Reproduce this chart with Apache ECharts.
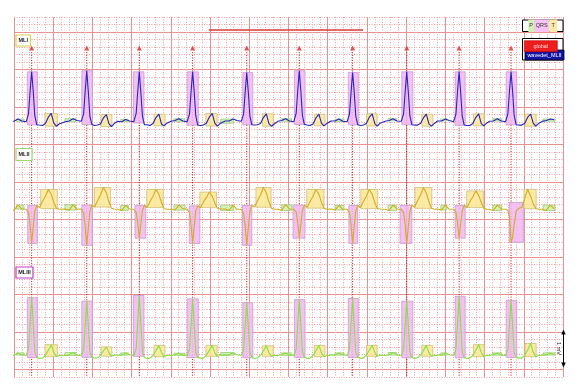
<!DOCTYPE html>
<html><head><meta charset="utf-8">
<script src="https://cdn.jsdelivr.net/npm/echarts@6/dist/echarts.min.js"></script>
<style>html,body{margin:0;padding:0;background:#fff}#c{width:583px;height:392px}</style>
</head><body><div id="c"></div>
<script>
// ---- data (time in ms from window start, amplitude in mV) ----
const beatTimes = [90, 371, 639, 911, 1187, 1455, 1727, 2003, 2270, 2535, 2805];
const sampleOffsets = [-110, -90, -70, -50, -28, -16, -8, 0, 8, 16, 26, 40, 55, 70, 85, 100, 113, 126, 140];
const leadLabels = ['MLI', 'MLII', 'MLIII'];
const mlI = [
  [0.02, 0.01, 0.07, 0.02, 0, 0.21, 0.8, 1.33, 0.82, 0.16, -0.08, -0.09, -0.1, -0.05, 0.12, 0.22, -0.04, -0.12, -0.06],
  [0, 0.02, 0.08, 0.03, 0.01, 0.2, 0.82, 1.36, 0.8, 0.14, -0.07, -0.1, -0.09, -0.06, 0.1, 0.19, -0.05, -0.13, -0.05],
  [0.01, 0, 0.06, 0.02, 0, 0.22, 0.8, 1.33, 0.78, 0.15, -0.08, -0.08, -0.1, -0.05, 0.11, 0.2, -0.06, -0.11, -0.04],
  [0.01, 0.03, 0.08, 0.02, 0, 0.2, 0.79, 1.33, 0.8, 0.16, -0.09, -0.1, -0.09, -0.04, 0.12, 0.22, -0.04, -0.12, -0.05],
  [0.02, 0.02, 0.07, 0.03, 0.01, 0.2, 0.78, 1.31, 0.79, 0.15, -0.08, -0.09, -0.08, -0.05, 0.11, 0.21, -0.05, -0.12, -0.06],
  [0.01, 0.03, 0.08, 0.02, 0, 0.22, 0.82, 1.36, 0.81, 0.16, -0.07, -0.09, -0.1, -0.06, 0.1, 0.2, -0.04, -0.11, -0.05],
  [0.02, 0.02, 0.07, 0.01, 0, 0.2, 0.78, 1.31, 0.8, 0.15, -0.08, -0.1, -0.09, -0.05, 0.12, 0.21, -0.05, -0.12, -0.04],
  [0.01, 0.03, 0.08, 0.02, 0.01, 0.21, 0.8, 1.33, 0.8, 0.16, -0.08, -0.09, -0.09, -0.05, 0.1, 0.2, -0.06, -0.12, -0.05],
  [0.02, 0.02, 0.07, 0.03, 0, 0.2, 0.8, 1.33, 0.79, 0.15, -0.09, -0.1, -0.1, -0.05, 0.11, 0.21, -0.05, -0.11, -0.04],
  [0.01, 0.02, 0.08, 0.02, 0, 0.21, 0.81, 1.33, 0.8, 0.16, -0.08, -0.09, -0.09, -0.04, 0.12, 0.2, -0.04, -0.12, -0.05],
  [0.01, 0.03, 0.07, 0.05]
];
const mlII = [
  [0, -0.03, 0.11, 0.01, 0, -0.08, -0.42, -0.91, -0.48, -0.05, 0.1, 0.05, 0.21, 0.35, 0.53, 0.4, 0.19, 0.03, 0],
  [0.01, -0.02, 0.12, 0, 0.01, -0.1, -0.45, -0.96, -0.5, -0.06, 0.11, 0.06, 0.23, 0.38, 0.58, 0.44, 0.2, 0.03, 0.01],
  [0, -0.03, 0.1, 0.01, 0, -0.07, -0.36, -0.77, -0.4, -0.04, 0.1, 0.05, 0.21, 0.35, 0.53, 0.4, 0.18, 0.02, 0],
  [0, -0.02, 0.11, 0.02, 0, -0.08, -0.42, -0.91, -0.47, -0.05, 0.09, 0.05, 0.19, 0.31, 0.46, 0.35, 0.17, 0.03, 0.01],
  [0.01, -0.03, 0.11, 0, 0, -0.1, -0.45, -0.96, -0.5, -0.06, 0.1, 0.06, 0.23, 0.38, 0.58, 0.44, 0.2, 0.03, 0],
  [0, -0.03, 0.12, 0.01, 0, -0.07, -0.36, -0.77, -0.41, -0.04, 0.11, 0.05, 0.21, 0.35, 0.53, 0.4, 0.19, 0.03, 0],
  [0.01, -0.02, 0.1, 0, 0, -0.08, -0.42, -0.91, -0.48, -0.05, 0.1, 0.05, 0.21, 0.35, 0.53, 0.4, 0.18, 0.02, 0.01],
  [0, -0.03, 0.11, 0.01, 0, -0.09, -0.42, -0.91, -0.48, -0.05, 0.1, 0.06, 0.23, 0.38, 0.58, 0.43, 0.2, 0.03, 0],
  [0.01, -0.02, 0.11, 0, 0, -0.07, -0.36, -0.77, -0.4, -0.04, 0.1, 0.05, 0.2, 0.33, 0.49, 0.37, 0.18, 0.03, 0],
  [0, -0.03, 0.11, 0.01, 0, -0.03, -0.2, -0.88, -0.75, -0.4, -0.05, 0.03, 0.05, 0.3, 0.53, 0.35, 0.15, 0.02, 0],
  [0, -0.03, 0.11, 0.01]
];
const mlIII = [
  [0.01, 0, 0.07, 0.02, 0, 0.17, 0.85, 1.54, 0.86, 0.09, -0.05, -0.08, -0.07, 0, 0.14, 0.29, 0.08, -0.03, 0],
  [0, 0.02, 0.08, 0.01, 0, 0.15, 0.8, 1.45, 0.8, 0.08, -0.04, -0.07, -0.06, 0.01, 0.12, 0.23, 0.07, -0.02, 0.01],
  [0.01, 0.01, 0.07, 0.02, 0, 0.18, 0.88, 1.6, 0.88, 0.09, -0.05, -0.08, -0.07, 0, 0.13, 0.27, 0.08, -0.03, 0],
  [0, 0.02, 0.06, 0.01, 0, 0.16, 0.83, 1.51, 0.84, 0.08, -0.05, -0.07, -0.07, 0.01, 0.13, 0.27, 0.07, -0.03, 0.01],
  [0.01, 0.01, 0.08, 0.02, 0, 0.15, 0.78, 1.41, 0.78, 0.08, -0.05, -0.08, -0.06, 0, 0.12, 0.26, 0.08, -0.02, 0],
  [0, 0.02, 0.07, 0.01, 0, 0.16, 0.82, 1.49, 0.82, 0.09, -0.04, -0.08, -0.07, 0, 0.13, 0.27, 0.07, -0.03, 0],
  [0.01, 0.01, 0.07, 0.02, 0, 0.17, 0.84, 1.52, 0.84, 0.08, -0.05, -0.07, -0.07, 0.01, 0.14, 0.27, 0.08, -0.03, 0.01],
  [0, 0.02, 0.08, 0.01, 0, 0.15, 0.8, 1.45, 0.8, 0.08, -0.05, -0.08, -0.06, 0, 0.13, 0.27, 0.07, -0.02, 0],
  [0.01, 0.01, 0.07, 0.02, 0, 0.17, 0.87, 1.58, 0.87, 0.09, -0.05, -0.08, -0.07, 0, 0.14, 0.29, 0.08, -0.03, 0],
  [0, 0.02, 0.07, 0.01, 0, 0.16, 0.81, 1.47, 0.81, 0.08, -0.05, -0.07, -0.07, 0.01, 0.15, 0.32, 0.09, -0.03, 0],
  [0.01, 0.02, 0.07, 0.02]
];
// wave boundaries, ms relative to each beat
const pWaves = [[-77,-39],[-111,-55],[-95,-56],[-95,-39],[-133,-68],[-90,-39],[-90,-44],[-95,-51],[-93,-63],[-93,-47],[-107,-46]];
const qrsGlobal = [[-22,29],[-25,29],[-30,24],[-28,29],[-20,31],[-25,29],[-22,29],[-25,31],[-20,31],[-25,29]];
const tGlobal = [[68,131],[73,128],[75,131],[68,125],[80,136],[77,131],[71,125],[77,133],[73,128],[71,128]];
const qrsII = [[-20,29],[-25,29],[-22,33],[-17,37],[-22,26],[-32,29],[-19,26],[-34,26],[-20,31],[-9,63]];
const tII = [[46,131],[39,122],[38,122],[37,122],[47,124],[38,126],[42,128],[42,128],[39,124],[66,128]];
const legendWaves = ['P', 'QRS', 'T'];
const legendSources = ['global', 'wavedet_MLII'];
const annotationSpan = [994, 1780];
const calibrationText = '1 mV';

// ---- layout (display units: 1 unit = 1 mV) ----
const baselines = [6.808, 4.472, 0.573];
const markerLevel = 8.773, beatLineTop = 8.66, annotationLevel = 9.253;
const FONT = 'Liberation Sans';

function trace(lead, base) {
  const pts = [];
  lead.forEach((vals, i) => vals.forEach((v, j) => pts.push([beatTimes[i] + sampleOffsets[j], +(base + v).toFixed(3)])));
  return pts;
}
function valueAt(pts, t) {
  for (let k = 1; k < pts.length; k++) {
    if (pts[k][0] >= t) { const a = pts[k-1], b = pts[k]; return a[1] + (b[1]-a[1]) * (t-a[0]) / (b[0]-a[0]); }
  }
  return pts[pts.length-1][1];
}
function boxes(pts, intervals) {
  return intervals.map((iv, i) => {
    const t0 = beatTimes[i] + iv[0], t1 = beatTimes[i] + iv[1];
    let vals = [valueAt(pts, t0), valueAt(pts, t1)];
    pts.forEach(p => { if (p[0] >= t0 && p[0] <= t1) vals.push(p[1]); });
    return [t0, t1, Math.min(...vals), Math.max(...vals)];
  });
}
function boxSeries(data, fill, stroke, z) {
  return {
    type: 'custom', z, clip: true, data, encode: { x: [0, 1], y: [2, 3] },
    renderItem: (params, api) => {
      const p0 = api.coord([api.value(0), api.value(3)]);
      const p1 = api.coord([api.value(1), api.value(2)]);
      return { type: 'rect', shape: { x: p0[0], y: p0[1], width: p1[0]-p0[0], height: Math.max(1, p1[1]-p0[1]) },
               style: { fill, stroke, lineWidth: 0.8 } };
    }
  };
}

const tr = [trace(mlI, baselines[0]), trace(mlII, baselines[1]), trace(mlIII, baselines[2])];
const traceColors = ['#2323c4', '#cfae22', '#86e044'];
const QRS_FILL = 'rgba(242,182,242,0.85)', QRS_STROKE = '#c99bd2';
const T_FILL = 'rgba(252,232,150,0.85)', T_STROKE = '#cfc07a';
const P_FILL = 'rgba(196,240,160,0.75)', P_STROKE = '#9ccc78';

const series = [];
// beat lines
series.push({
  type: 'custom', z: 1, data: beatTimes.slice(0, 10).map(t => [t, beatLineTop, 0]),
  encode: { x: 0, y: [1, 2] },
  renderItem: (params, api) => {
    const a = api.coord([api.value(0), api.value(1)]), b = api.coord([api.value(0), api.value(2)]);
    return { type: 'line', shape: { x1: a[0], y1: a[1], x2: b[0], y2: b[1] },
             style: { stroke: '#a80c0c', lineWidth: 1, lineDash: [1, 1.6] } };
  }
});
tr.forEach((pts, i) => {
  const qrs = i === 1 ? qrsII : qrsGlobal, tw = i === 1 ? tII : tGlobal;
  series.push(boxSeries(boxes(pts, pWaves), P_FILL, P_STROKE, 2));
  series.push(boxSeries(boxes(pts, qrs), QRS_FILL, QRS_STROKE, 2));
  series.push(boxSeries(boxes(pts, tw), T_FILL, T_STROKE, 2));
});
tr.forEach((pts, i) => series.push({
  type: 'line', data: pts, showSymbol: false, symbol: 'none', z: 3,
  lineStyle: { color: traceColors[i], width: 1.1 }
}));
series.push({
  type: 'scatter', z: 5, symbol: 'triangle', symbolSize: [5, 5],
  itemStyle: { color: '#e02424' }, data: beatTimes.slice(0, 10).map(t => [t, markerLevel])
});
series.push({
  type: 'line', z: 5, showSymbol: false, symbol: 'none',
  lineStyle: { color: '#d83a3a', width: 1.6 },
  data: annotationSpan.map(t => [t, annotationLevel])
});

const hidden = { axisLine: { show: false }, axisTick: { show: false }, axisLabel: { show: false } };
const minorLine = { show: true, lineStyle: { color: '#f0a0a0', width: 1, type: [1, 1.5] } };
const majorLine = { show: true, lineStyle: { color: '#e99090', width: 1, type: 'solid' } };

function labelBox(x, y, w, h, text, stroke) {
  return { type: 'group', children: [
    { type: 'rect', shape: { x, y, width: w, height: h }, style: { fill: '#fff', stroke, lineWidth: 1.2 }, z: 10 },
    { type: 'text', style: { x: x + w/2, y: y + h/2, text, fill: '#222', font: 'bold 5.5px ' + FONT, align: 'center', verticalAlign: 'middle' }, z: 11 }
  ] };
}

const graphic = [
  labelBox(16, 35, 14.5, 11, leadLabels[0], '#d6d24a'),
  labelBox(16, 148.5, 16, 12, leadLabels[1], '#9ad870'),
  labelBox(16, 267, 17, 11, leadLabels[2], '#c23cc2'),
  // wave legend
  { type: 'rect', shape: { x: 522.5, y: 20, width: 40.5, height: 11.5 }, style: { fill: '#fff', stroke: '#000', lineWidth: 1 }, z: 10 },
  { type: 'rect', shape: { x: 528.3, y: 19.5, width: 5.7, height: 12.5 }, style: { fill: '#d2f2b4' }, z: 11 },
  { type: 'rect', shape: { x: 534, y: 19.5, width: 15.3, height: 12.5 }, style: { fill: '#f5c4f5' }, z: 11 },
  { type: 'rect', shape: { x: 549.3, y: 19.5, width: 8, height: 12.5 }, style: { fill: '#fbe7a6' }, z: 11 },
  { type: 'text', style: { x: 531.2, y: 25.8, text: legendWaves[0], fill: '#333', font: '5.5px ' + FONT, align: 'center', verticalAlign: 'middle' }, z: 12 },
  { type: 'text', style: { x: 541.7, y: 25.8, text: legendWaves[1], fill: '#333', font: '5.5px ' + FONT, align: 'center', verticalAlign: 'middle' }, z: 12 },
  { type: 'text', style: { x: 553.3, y: 25.8, text: legendWaves[2], fill: '#333', font: '5.5px ' + FONT, align: 'center', verticalAlign: 'middle' }, z: 12 },
  // source legend
  { type: 'rect', shape: { x: 522.5, y: 38.5, width: 40.5, height: 21.5 }, style: { fill: '#fff', stroke: '#000', lineWidth: 1 }, z: 10 },
  { type: 'rect', shape: { x: 525, y: 50, width: 39, height: 10 }, style: { fill: '#1212a4', stroke: '#000', lineWidth: 0.8 }, z: 11 },
  { type: 'rect', shape: { x: 524.3, y: 40.7, width: 33, height: 11 }, style: { fill: '#ee1c1c', stroke: '#b00', lineWidth: 0.6 }, z: 12 },
  { type: 'text', style: { x: 540.8, y: 46.3, text: legendSources[0], fill: '#ffd8d8', font: '5.5px ' + FONT, align: 'center', verticalAlign: 'middle' }, z: 13 },
  { type: 'text', style: { x: 544.5, y: 55.6, text: legendSources[1], fill: '#ffffff', font: '5.5px ' + FONT, align: 'center', verticalAlign: 'middle' }, z: 13 },
  // calibration arrow
  { type: 'line', shape: { x1: 563.5, y1: 331, x2: 563.5, y2: 366 }, style: { stroke: '#000', lineWidth: 1 }, z: 10 },
  { type: 'polygon', shape: { points: [[563.5, 329.5], [561.3, 334.5], [565.7, 334.5]] }, style: { fill: '#000' }, z: 10 },
  { type: 'polygon', shape: { points: [[563.5, 367.5], [561.3, 362.5], [565.7, 362.5]] }, style: { fill: '#000' }, z: 10 },
  { type: 'text', x: 558.3, y: 348.5, rotation: -Math.PI / 2,
    style: { x: 0, y: 0, text: calibrationText, fill: '#222', font: '5.5px ' + FONT, align: 'center', verticalAlign: 'middle' }, z: 10 }
];

const option = {
  animation: false,
  backgroundColor: '#fff',
  grid: [
    { left: 14, top: 17, width: 549, height: 360 },
    { left: 14, top: 32, width: 549, height: 337.5 }
  ],
  xAxis: [
    Object.assign({ gridIndex: 0, type: 'value', min: 0, max: 2800, interval: 40, splitLine: minorLine }, hidden),
    Object.assign({ gridIndex: 0, type: 'value', min: 0, max: 2800, interval: 200, position: 'top', splitLine: majorLine }, hidden),
    Object.assign({ gridIndex: 1, type: 'value', min: 0, max: 2800, splitLine: { show: false } }, hidden)
  ],
  yAxis: [
    Object.assign({ gridIndex: 0, type: 'value', min: 0, max: 9.6, interval: 0.2, splitLine: minorLine }, hidden),
    Object.assign({ gridIndex: 1, type: 'value', min: 0, max: 9, interval: 1, splitLine: majorLine }, hidden)
  ],
  series: series.map(s => Object.assign({ xAxisIndex: 0, yAxisIndex: 0, silent: true }, s)),
  graphic
};
const chart = echarts.init(document.getElementById('c'));
chart.setOption(option);
</script></body></html>
